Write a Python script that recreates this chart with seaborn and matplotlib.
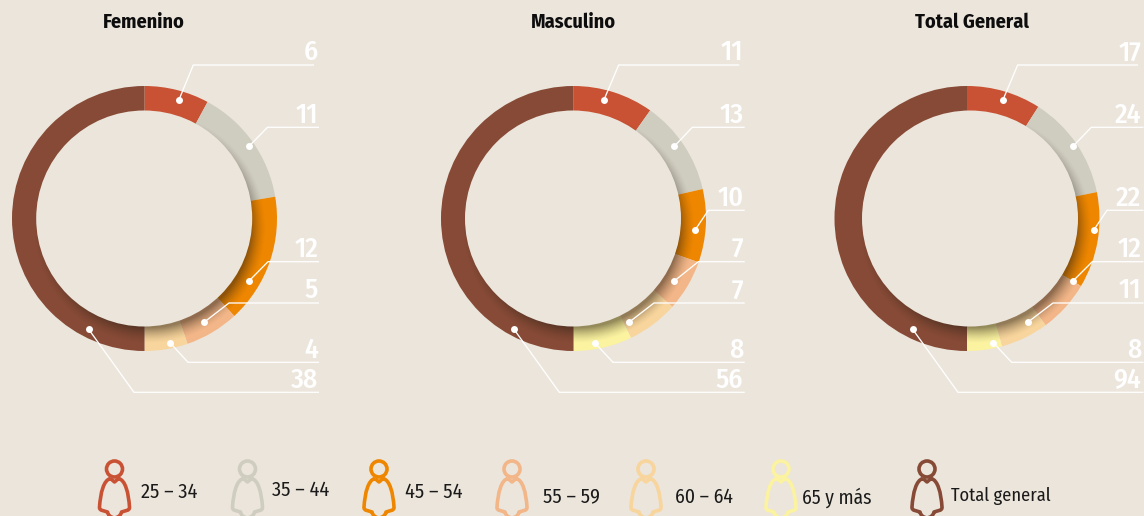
import numpy as np
import matplotlib
matplotlib.use("Agg")
import matplotlib.pyplot as plt
from matplotlib.patches import Circle, PathPatch
from matplotlib.path import Path
from matplotlib import font_manager as fm
import seaborn as sns

# ---- data ----
age_groups = ["25 – 34", "35 – 44", "45 – 54", "55 – 59", "60 – 64", "65 y más", "Total general"]
femenino = [6, 11, 12, 5, 4, 0, 38]
masculino = [11, 13, 10, 7, 7, 8, 56]
total_general = [17, 24, 22, 12, 11, 8, 94]
panel_titles = ["Femenino", "Masculino", "Total General"]

# ---- style ----
BG = "#ECE5DB"
hexes = ["#C85233", "#CFCDC0", "#EE8600", "#F2B688", "#F8D59C", "#FBF3A0", "#864A36"]
palette = sns.color_palette(hexes)
sns.set_theme(style="white", rc={"figure.facecolor": BG, "axes.facecolor": BG})
names = {f.name for f in fm.fontManager.ttflist}
COND = next((n for n in ["Fira Sans Condensed", "Roboto Condensed", "Roboto"] if n in names), "DejaVu Sans")
plt.rcParams["font.family"] = [COND, "DejaVu Sans"]

# ---- layout (pixels) ----
centers = [(144.5, 218.5), (573.5, 218.5), (967, 218.5)]
inner_centers = [(144.2, 218.5), (573, 218.5), (970, 218.5)]
R_OUT, R_IN = 132.5, 108
title_x = [144, 573.5, 972]
label_right = [318, 743.5, 1141.5]
line_end = [319, 744.7, 1143.5]
first_end = [314, 739.3, 1138]
dots = [
    [(179, 99.7), (249, 146.3), (249, 281), (204, 322.3), (170, 342.7), None, (88.7, 329.3)],
    [(604, 99.7), (674.3, 146.3), (695.3, 229.7), (674.3, 281), (629, 322.3), (594.7, 342.7), (514, 329.3)],
    [(1003, 99.7), (1073, 146.3), (1094, 229.7), (1073, 281), (1027.7, 322.3), (993.3, 342.7), (912.7, 329.3)],
]
elbows = [
    [(193.3, 65), (267.5, 127.3), (268, 261.7), (229, 303), (188, 362.3), None, (134, 392.3)],
    [(618.7, 65), (692.3, 127.3), (708.3, 210.3), (698.3, 261.7), (654, 303), (613, 362.3), (559.3, 392.3)],
    [(1017.7, 65), (1091.3, 127.3), (1107, 210.3), (1092.3, 261.7), (1053, 303), (1011.7, 362.3), (958, 392.3)],
]
icon_x = [114.5, 247.5, 379, 512, 646, 781, 927]
legend_text = [(141, 492), (272, 490), (405, 492), (543, 497), (675, 497), (802, 498), (951, 496)]
legend_size = [14.6, 14.6, 14.6, 14.6, 14.2, 14.0, 13.3]
ICON_Y = 469

fig = plt.figure(figsize=(11.44, 5.16), dpi=100, facecolor=BG)
ax = fig.add_axes([0, 0, 1, 1])

# soft inner shadow, dark towards the lower right of the hole
yy, xx = np.mgrid[0:516, 0:1144] + 0.5


def shadow(c):
    d = np.hypot(xx - (c[0] + 6), yy - (c[1] + 9))
    a = np.clip((116 - d) / 16, 0, 1) ** 1.5 * 0.5
    rgba = np.zeros((516, 1144, 4))
    rgba[..., 0:3] = (0.18, 0.13, 0.08)
    rgba[..., 3] = a
    return rgba


series = [femenino, masculino, total_general]
for i, vals in enumerate(series):
    ax.pie(vals, colors=palette, center=centers[i], radius=R_OUT, startangle=-90,
           counterclock=True, wedgeprops={"linewidth": 0}, normalize=True)
ax.set_aspect("auto")
ax.set_frame_on(False)

for i, vals in enumerate(series):
    im = ax.imshow(shadow(inner_centers[i]), extent=(0, 1144, 516, 0), zorder=2,
                   aspect="auto", interpolation="bilinear")
    im.set_clip_path(Circle(centers[i], R_OUT, transform=ax.transData))
    ax.add_patch(Circle(inner_centers[i], R_IN, fc=BG, ec="none", zorder=3))

ax.set_xlim(0, 1144)
ax.set_ylim(516, 0)
ax.set_xticks([])
ax.set_yticks([])

for i, vals in enumerate(series):
    ax.text(title_x[i], 28, panel_titles[i], ha="center", va="baseline",
            fontsize=14.5, fontweight="bold", color="#0d0d0d", zorder=6)
    first = True
    for j, v in enumerate(vals):
        if v == 0:
            continue
        dx, dy = dots[i][j]
        ex, ey = elbows[i][j]
        end = first_end[i] if first else line_end[i]
        first = False
        ax.plot([dx, ex, end], [dy, ey, ey], color="white", lw=0.95, zorder=4,
                solid_joinstyle="miter", solid_capstyle="butt")
        ax.plot([dx], [dy], "o", color="white", ms=5, mew=0, zorder=5)
        ax.text(label_right[i], ey - 4.6, str(v), ha="right", va="baseline",
                fontsize=20, fontweight="medium", color="white", zorder=6)

# legend figures: head ring plus bell-shaped body
L, C3, C4 = Path.LINETO, Path.CURVE3, Path.CURVE4
body = [((-4, 9.5), Path.MOVETO), ((0, 13), L), ((4, 9.5), L),
        ((11, 11), C4), ((14, 24), C4), ((15, 38), C4),
        ((15.3, 41), C3), ((12, 41.5), C3), ((7, 43), L),
        ((6, 48), C3), ((0, 49), C3), ((-6, 48), C3), ((-7, 43), C3),
        ((-12, 41.5), L), ((-15.3, 41), C3), ((-15, 38), C3),
        ((-14, 24), C4), ((-11, 11), C4), ((-4, 9.5), C4)]
body_codes = [b[1] for b in body]
for k, name in enumerate(age_groups):
    c = palette[k]
    ax.add_patch(Circle((icon_x[k], ICON_Y), 8, fc="none", ec=c, lw=2.6, zorder=4))
    verts = [(icon_x[k] + b[0][0], ICON_Y + b[0][1]) for b in body]
    ax.add_patch(PathPatch(Path(verts, body_codes), fc="none", ec=c, lw=2.6, joinstyle="round", zorder=4))
    ax.text(legend_text[k][0], legend_text[k][1], name, ha="left", va="center",
            fontsize=legend_size[k], color="#1a1a1a", zorder=6)

fig.savefig("out.png", dpi=100, facecolor=BG)
